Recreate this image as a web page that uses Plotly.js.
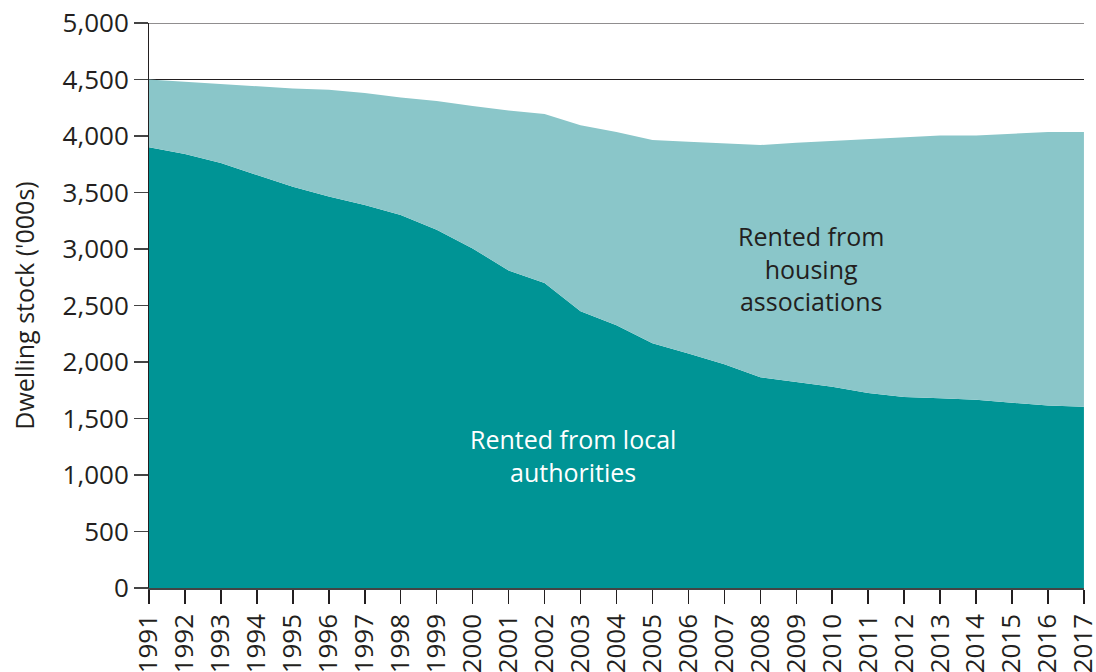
<!DOCTYPE html>
<html>
<head>
<meta charset="utf-8">
<script src="https://cdn.plot.ly/plotly-3.0.1.min.js"></script>
<style>
  html, body { margin: 0; padding: 0; background: #fff; }
  #chart { width: 1096px; height: 672px; }
</style>
</head>
<body>
<div id="chart"></div>
<script>
const years = [1991, 1992, 1993, 1994, 1995, 1996, 1997, 1998, 1999, 2000,
    2001, 2002, 2003, 2004, 2005, 2006, 2007, 2008, 2009, 2010,
    2011, 2012, 2013, 2014, 2015, 2016, 2017];

// thousands of dwellings
const localAuthorities = [3900, 3840, 3760, 3655, 3550, 3465, 3390, 3300, 3170, 3005,
    2810, 2700, 2450, 2325, 2165, 2075, 1980, 1865, 1820, 1780,
    1725, 1690, 1680, 1665, 1640, 1615, 1605];

const housingAssociations = [600, 640, 700, 790, 870, 945, 990, 1040, 1140, 1260,
    1415, 1495, 1645, 1710, 1800, 1875, 1955, 2055, 2120, 2175,
    2250, 2300, 2325, 2340, 2380, 2420, 2430];

const yTicks = [0, 500, 1000, 1500, 2000, 2500, 3000, 3500, 4000, 4500, 5000];

const font = "'Open Sans', 'Noto Sans', sans-serif";

const traces = [
    {
        x: years,
        y: localAuthorities,
        name: "Rented from local authorities",
        type: "scatter",
        mode: "lines",
        stackgroup: "one",
        line: { width: 0 },
        fillcolor: "#009495",
        hoverinfo: "x+y"
    },
    {
        x: years,
        y: housingAssociations,
        name: "Rented from housing associations",
        type: "scatter",
        mode: "lines",
        stackgroup: "one",
        line: { width: 0 },
        fillcolor: "#8ac6c9",
        hoverinfo: "x+y"
    }
];

const layout = {
    width: 1096,
    height: 672,
    margin: { l: 149, r: 12, t: 23, b: 84 },
    paper_bgcolor: "#fff",
    plot_bgcolor: "#fff",
    showlegend: false,
    font: { family: font, color: "#231f20" },

    xaxis: {
        range: [1991, 2017.002],
        tickvals: years,
        ticktext: years.map(String),
        tickangle: -90,
        ticks: "outside",
        ticklen: 14,
        tickcolor: "#231f20",
        tickwidth: 1.5,
        tickfont: { size: 26 },
        ticklabeloverflow: "allow",
        showgrid: false,
        zeroline: false,
        showline: true,
        linecolor: "#444",
        linewidth: 1.5,
        automargin: false,
        fixedrange: true
    },

    yaxis: {
        range: [0, 5000],
        tickvals: yTicks,
        tickformat: ",",
        ticks: "outside",
        ticklen: 14,
        tickcolor: "#444",
        tickwidth: 1.5,
        tickfont: { size: 26 },
        showgrid: false,
        zeroline: false,
        showline: true,
        linecolor: "#231f20",
        linewidth: 1,
        automargin: false,
        title: {
            text: "Dwelling stock ('000s)",
            font: { size: 25 },
            standoff: 20
        },
        fixedrange: true
    },

    shapes: [4500, 5000].map(v => ({
        type: "line",
        xref: "paper",
        x0: 0,
        x1: 1,
        yref: "y",
        y0: v,
        y1: v,
        layer: "below",
        line: { color: "#231f20", width: 1.2 }
    })),

    annotations: [
        {
            x: 2009.4,
            y: 2830,
            text: "Rented from<br>housing<br>associations",
            showarrow: false,
            align: "center",
            font: { size: 25, color: "#231f20" }
        },
        {
            x: 2002.8,
            y: 1170,
            text: "Rented from local<br>authorities",
            showarrow: false,
            align: "center",
            font: { size: 25, color: "#ffffff" }
        }
    ]
};

Plotly.newPlot("chart", traces, layout, { displayModeBar: false, staticPlot: true });
</script>
</body>
</html>
